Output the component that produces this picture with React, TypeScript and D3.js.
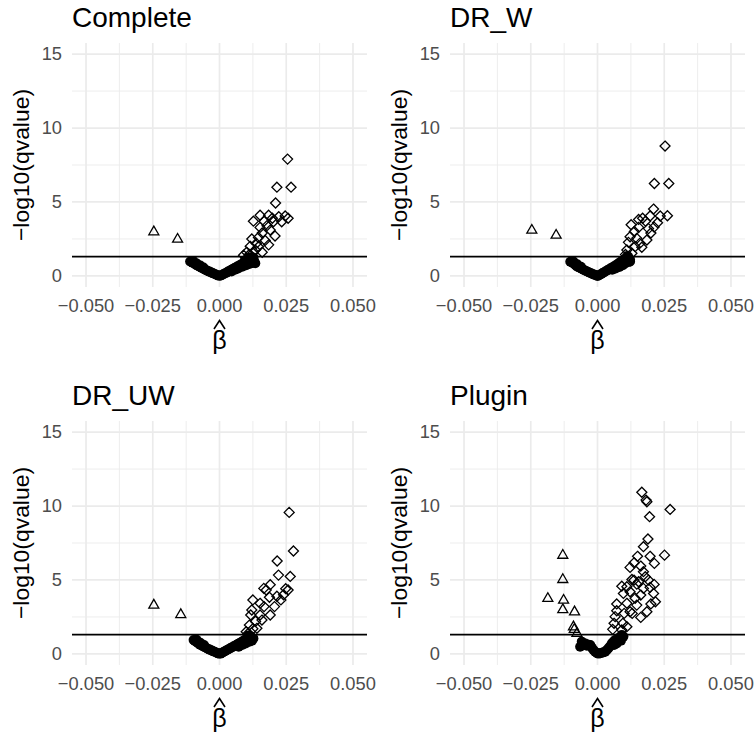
import React from "react";
import * as d3 from "d3";

const panelTitles = ["Complete", "DR_W", "DR_UW", "Plugin"];
const xTicks = [-0.05, -0.025, 0, 0.025, 0.05];
const xMinor = [-0.0375, -0.0125, 0.0125, 0.0375];
const yTicks = [0, 5, 10, 15];
const yMinor = [2.5, 7.5, 12.5];
const qThreshold = 1.30103;

type P = [number, number];

// ---- Complete ----
const completeCircles: P[] = [
  [-0.011, 0.97], [-0.0105, 0.94], [-0.0101, 0.9], [-0.0096, 0.85], [-0.0091, 0.79], [-0.0086, 0.73],
  [-0.008, 0.67], [-0.0074, 0.62], [-0.0068, 0.55], [-0.0062, 0.5], [-0.0056, 0.44], [-0.005, 0.39],
  [-0.0044, 0.33], [-0.0038, 0.29], [-0.0032, 0.24], [-0.0026, 0.19], [-0.002, 0.14], [-0.0014, 0.09],
  [-0.0008, 0.05], [-0.0003, 0.02], [0.0002, 0.01], [0.0008, 0.05], [0.0014, 0.11], [0.002, 0.17],
  [0.0026, 0.22], [0.0032, 0.29], [0.0038, 0.34], [0.0044, 0.41], [0.005, 0.46], [0.0056, 0.53],
  [0.0062, 0.58], [0.0068, 0.65], [0.0074, 0.7], [0.008, 0.77], [0.0086, 0.82], [0.0092, 0.89],
  [0.0098, 0.94], [0.0104, 1.01], [0.011, 1.06], [0.0116, 1.13], [0.0122, 1.18], [0.0127, 1.25],
  [0.007, 0.5], [0.0085, 0.62], [0.01, 0.72], [0.0112, 0.8], [0.0124, 0.88], [0.0134, 0.86],
  [0.013, 1.0], [0.0095, 1.05], [0.0105, 1.2], [0.0118, 1.27], [-0.0098, 1.0], [-0.0085, 0.84],
  [-0.0072, 0.7], [-0.006, 0.57], [0.0058, 0.42], [0.0045, 0.3],
];
const completeTriangles: P[] = [[-0.0246, 2.99], [-0.0157, 2.49]];
const completeDiamonds: P[] = [
  [0.0255, 7.9], [0.0215, 6.0], [0.0268, 6.0], [0.021, 4.93], [0.0246, 4.05], [0.0257, 3.9],
  [0.0152, 4.1], [0.0184, 4.1], [0.0127, 3.7], [0.0167, 3.7], [0.0202, 3.66], [0.0233, 3.66],
  [0.0152, 3.28], [0.019, 3.1], [0.0121, 2.5], [0.0146, 2.6], [0.0171, 2.4], [0.0208, 2.7],
  [0.0115, 2.0], [0.0146, 1.97], [0.0184, 2.1], [0.0102, 1.6], [0.0134, 1.75], [0.009, 1.4],
  [0.016, 2.9], [0.0178, 3.4], [0.0138, 2.2], [0.0112, 1.45], [0.0125, 1.55], [0.0198, 3.9],
  [0.0222, 4.0], [0.016, 1.6],
];

// ---- DR_W ----
const drwCircles: P[] = [
  [-0.0102, 0.96], [-0.0097, 0.93], [-0.0092, 0.88], [-0.0087, 0.8], [-0.0082, 0.72], [-0.0077, 0.64],
  [-0.0071, 0.58], [-0.0065, 0.53], [-0.0059, 0.48], [-0.0053, 0.42], [-0.0047, 0.37], [-0.0041, 0.32],
  [-0.0035, 0.27], [-0.0029, 0.22], [-0.0023, 0.17], [-0.0017, 0.12], [-0.0011, 0.08], [-0.0005, 0.03],
  [0.0001, 0.0], [0.0007, 0.06], [0.0013, 0.12], [0.0019, 0.19], [0.0025, 0.25], [0.0031, 0.31],
  [0.0037, 0.38], [0.0043, 0.44], [0.0049, 0.51], [0.0055, 0.57], [0.0061, 0.64], [0.0067, 0.7],
  [0.0073, 0.77], [0.0079, 0.85], [0.0085, 0.92], [0.0091, 1.0], [0.0097, 1.08], [0.0103, 1.16],
  [0.0109, 1.24], [0.0115, 1.3], [0.0122, 1.1], [0.0118, 0.95], [0.0105, 0.85], [0.0095, 0.72],
  [0.0082, 0.6], [0.0068, 0.5], [0.0122, 0.98], [0.0112, 1.35], [-0.009, 0.98], [-0.0076, 0.78],
  [-0.0062, 0.62], [0.0055, 0.42],
];
const drwTriangles: P[] = [[-0.0246, 3.1], [-0.0155, 2.76]];
const drwDiamonds: P[] = [
  [0.0253, 8.78], [0.0213, 6.25], [0.0267, 6.25], [0.021, 4.52], [0.0197, 4.05], [0.0235, 4.05],
  [0.0262, 4.07], [0.0169, 3.9], [0.0154, 3.82], [0.0126, 3.46], [0.0154, 3.28], [0.0191, 3.2],
  [0.0212, 3.3], [0.0122, 2.65], [0.0147, 2.54], [0.0185, 2.43], [0.0116, 2.27], [0.0141, 1.98],
  [0.0166, 1.94], [0.011, 1.75], [0.0129, 1.53], [0.018, 3.7], [0.02, 2.9], [0.0138, 3.0],
  [0.0225, 3.6], [0.0105, 1.45], [0.0158, 2.2],
];

// ---- DR_UW ----
const druwCircles: P[] = [
  [-0.0097, 0.94], [-0.0093, 0.9], [-0.0089, 0.84], [-0.0084, 0.78], [-0.0079, 0.7], [-0.0073, 0.63],
  [-0.0067, 0.57], [-0.0061, 0.51], [-0.0055, 0.45], [-0.0049, 0.4], [-0.0043, 0.34], [-0.0037, 0.29],
  [-0.0031, 0.24], [-0.0025, 0.19], [-0.0019, 0.14], [-0.0013, 0.09], [-0.0007, 0.05], [-0.0002, 0.02],
  [0.0004, 0.02], [0.001, 0.08], [0.0016, 0.14], [0.0022, 0.2], [0.0028, 0.26], [0.0034, 0.32],
  [0.004, 0.38], [0.0046, 0.44], [0.0052, 0.5], [0.0058, 0.56], [0.0064, 0.62], [0.007, 0.68],
  [0.0076, 0.74], [0.0082, 0.8], [0.0088, 0.87], [0.0094, 0.94], [0.01, 1.0], [0.0106, 1.07],
  [0.0112, 1.13], [0.0118, 1.18], [0.0127, 1.05], [0.0122, 0.9], [0.0112, 0.82], [0.0098, 0.7],
  [0.0085, 0.6], [0.0072, 0.48], [0.0108, 1.25], [-0.0086, 0.95], [-0.0072, 0.75], [-0.0058, 0.6],
];
const druwTriangles: P[] = [[-0.0246, 3.31], [-0.0145, 2.67]];
const druwDiamonds: P[] = [
  [0.0261, 9.57], [0.0277, 6.96], [0.0216, 6.28], [0.0221, 5.33], [0.0265, 5.24], [0.019, 4.68],
  [0.0166, 4.43], [0.0175, 4.32], [0.0248, 4.41], [0.0257, 4.32], [0.0187, 3.83], [0.023, 3.65],
  [0.0125, 3.65], [0.0152, 3.42], [0.0206, 3.2], [0.0121, 2.97], [0.0167, 3.2], [0.019, 2.63],
  [0.0117, 2.63], [0.0152, 2.63], [0.0112, 1.95], [0.0159, 2.29], [0.014, 1.73], [0.01, 1.5],
  [0.0135, 2.2], [0.0215, 3.9], [0.024, 4.0], [0.0108, 1.4], [0.0125, 1.7],
];

// ---- Plugin ----
const pluginCircles: P[] = [
  [-0.0065, 0.49], [-0.0059, 0.83], [-0.0054, 0.62], [-0.0046, 0.71], [-0.004, 0.55], [-0.0033, 0.62],
  [-0.0027, 0.6], [-0.0021, 0.42], [-0.0015, 0.26], [-0.0009, 0.14], [-0.0002, 0.04], [0.0004, 0.02],
  [0.001, 0.04], [0.0017, 0.08], [0.0023, 0.12], [0.0029, 0.15], [0.0035, 0.26], [0.0041, 0.38],
  [0.0047, 0.52], [0.0054, 0.71], [0.006, 0.84], [0.0066, 0.94], [0.0072, 0.71], [0.0079, 1.05],
  [0.0085, 1.15], [0.0091, 1.28], [0.0097, 1.17], [0.0088, 0.9], [0.0075, 0.82], [0.0062, 0.6],
];
const pluginTriangles: P[] = [
  [-0.013, 6.68], [-0.013, 5.04], [-0.0186, 3.76], [-0.0127, 3.64], [-0.013, 3.0], [-0.0086, 2.85],
  [-0.009, 1.84], [-0.0087, 1.66], [-0.0077, 1.39],
];
const pluginDiamonds: P[] = [
  [0.0166, 10.93], [0.0182, 10.4], [0.0185, 10.29], [0.0272, 9.77], [0.0195, 9.28], [0.0189, 7.77],
  [0.0172, 7.25], [0.015, 6.6], [0.0197, 6.6], [0.0251, 6.68], [0.0137, 6.16], [0.0213, 6.12],
  [0.0122, 5.85], [0.0162, 5.94], [0.0172, 5.56], [0.0129, 5.03], [0.0137, 4.99], [0.0191, 4.99],
  [0.0091, 4.58], [0.011, 4.54], [0.0147, 4.72], [0.0172, 4.43], [0.0212, 4.7], [0.0097, 4.09],
  [0.0122, 4.2], [0.0162, 3.98], [0.021, 4.09], [0.0072, 3.38], [0.011, 3.42], [0.0147, 3.3],
  [0.02, 3.38], [0.0217, 3.53], [0.0072, 2.92], [0.0122, 2.85], [0.0185, 2.85], [0.0066, 2.52],
  [0.01, 2.74], [0.0162, 2.47], [0.0062, 2.07], [0.0095, 2.07], [0.0057, 1.66], [0.0091, 1.62],
  [0.011, 1.84], [0.013, 2.74], [0.0141, 3.76], [0.0154, 4.88], [0.0179, 5.22], [0.0197, 4.5],
];

const panelCircles = [completeCircles, drwCircles, druwCircles, pluginCircles];
const panelTriangles = [completeTriangles, drwTriangles, druwTriangles, pluginTriangles];
const panelDiamonds = [completeDiamonds, drwDiamonds, druwDiamonds, pluginDiamonds];

const W = 756;
const H = 736;
const PL = 72, PR = 367, PT = 43, PB = 287;
const COL = [0, 378];
const ROW = [0, 378];
const FONT = "'Liberation Sans', Arial, Helvetica, sans-serif";

const x = d3.scaleLinear().domain([-0.05525, 0.05525]).range([PL, PR]);
const y = d3.scaleLinear().domain([-0.75, 15.75]).range([PB, PT]);
const fmt = d3.format(".3f");

const tri = "M0,-5.6L5,3.1L-5,3.1Z";
const dia = "M0,-5L5,0L0,5L-5,0Z";

function Panel({ i }: { i: number }) {
  const ox = COL[i % 2];
  const oy = ROW[Math.floor(i / 2)];
  const midY = (PT + PB) / 2;
  const cx = (PL + PR) / 2;
  return (
    <g transform={`translate(${ox},${oy})`}>
      <text x={PL} y={27} fontSize={28} fill="#000">{panelTitles[i]}</text>
      {/* grid */}
      {xMinor.map((v) => (
        <line key={"xm" + v} x1={x(v)} x2={x(v)} y1={PT} y2={PB} stroke="#EBEBEB" strokeWidth={0.9} />
      ))}
      {yMinor.map((v) => (
        <line key={"ym" + v} x1={PL} x2={PR} y1={y(v)} y2={y(v)} stroke="#EBEBEB" strokeWidth={0.9} />
      ))}
      {xTicks.map((v) => (
        <line key={"xM" + v} x1={x(v)} x2={x(v)} y1={PT} y2={PB} stroke="#EBEBEB" strokeWidth={1.7} />
      ))}
      {yTicks.map((v) => (
        <line key={"yM" + v} x1={PL} x2={PR} y1={y(v)} y2={y(v)} stroke="#EBEBEB" strokeWidth={1.7} />
      ))}
      {/* points */}
      {panelCircles[i].map((d, k) => (
        <circle key={"c" + k} cx={x(d[0])} cy={y(d[1])} r={5} fill="#000" />
      ))}
      {panelTriangles[i].map((d, k) => (
        <path key={"t" + k} d={tri} transform={`translate(${x(d[0])},${y(d[1])})`} fill="none" stroke="#000" strokeWidth={1.3} />
      ))}
      {panelDiamonds[i].map((d, k) => (
        <path key={"d" + k} d={dia} transform={`translate(${x(d[0])},${y(d[1])})`} fill="none" stroke="#000" strokeWidth={1.3} />
      ))}
      <line x1={PL} x2={PR} y1={y(qThreshold)} y2={y(qThreshold)} stroke="#000" strokeWidth={1.7} />
      {/* axes text */}
      {yTicks.map((v) => (
        <text key={"yl" + v} x={62} y={y(v)} dy="0.35em" textAnchor="end" fontSize={18.3} fill="#4D4D4D">{v}</text>
      ))}
      {xTicks.map((v) => (
        <text key={"xl" + v} x={x(v)} y={311.5} textAnchor="middle" fontSize={18.3} fill="#4D4D4D">{fmt(v)}</text>
      ))}
      <text transform={`translate(29,${midY}) rotate(-90)`} textAnchor="middle" fontSize={22.9} fill="#000">−log10(qvalue)</text>
      <path d={`M${cx - 5.5},${329}L${cx},${320.5}L${cx + 5.5},${329}`} fill="none" stroke="#000" strokeWidth={1.6} />
      <text x={cx} y={349} textAnchor="middle" fontSize={25} fill="#000">β</text>
    </g>
  );
}

export default function App() {
  return (
    <svg width={W} height={H} viewBox={`0 0 ${W} ${H}`} style={{ position: "absolute", left: 0, top: 0, background: "#fff", fontFamily: FONT }}>
      <rect width={W} height={H} fill="#fff" />
      {[0, 1, 2, 3].map((i) => <Panel key={i} i={i} />)}
    </svg>
  );
}
